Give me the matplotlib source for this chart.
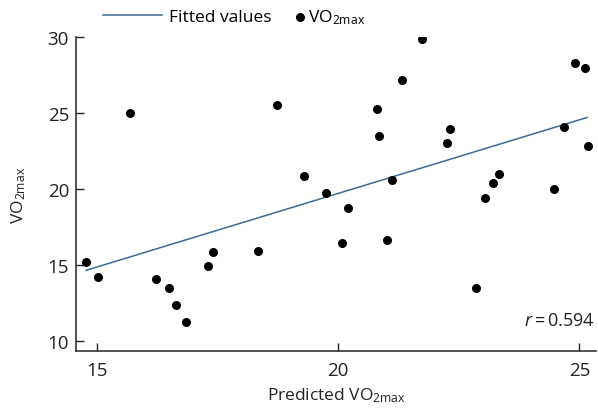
import matplotlib
matplotlib.use("Agg")
import matplotlib.pyplot as plt

plt.rcParams['font.family'] = ['Open Sans', 'DejaVu Sans']
plt.rcParams['mathtext.fontset'] = 'custom'
plt.rcParams['mathtext.rm'] = 'Open Sans'
plt.rcParams['mathtext.it'] = 'Open Sans:italic'

predicted = [14.77, 15.01, 15.68, 16.22, 16.50, 16.63, 16.84, 17.29, 17.41, 18.33,
             18.74, 19.30, 19.74, 20.08, 20.21, 20.80, 20.84, 21.02, 21.11, 21.33,
             21.74, 22.26, 22.32, 22.86, 23.05, 23.20, 23.33, 24.48, 24.69, 24.90,
             25.12, 25.17]
measured = [15.20, 14.19, 24.98, 14.06, 13.49, 12.37, 11.23, 14.95, 15.86, 15.90,
            25.53, 20.84, 19.74, 16.47, 18.78, 25.26, 23.51, 16.64, 20.59, 27.17,
            29.89, 23.03, 23.95, 13.49, 19.43, 20.41, 21.01, 19.98, 24.06, 28.31,
            27.94, 22.85]

# fitted line ends
fit_x = [14.77, 25.16]
fit_y = [14.65, 24.71]

xticks = [15, 20, 25]
yticks = [10, 15, 20, 25, 30]

vo2 = r'VO$_{\mathregular{2max}}$'

fig = plt.figure(figsize=(5.98, 4.10), dpi=100)
ax = fig.add_axes([0.127, 0.1415, 0.870, 0.7655])

line, = ax.plot(fit_x, fit_y, color='#3d6a93', linewidth=1.1, label='Fitted values')
dots = ax.scatter(predicted, measured, s=30, color='black', zorder=3, label=vo2)

ax.set_xlim(14.56, 25.35)
ax.set_ylim(9.34, 30)
ax.set_xticks(xticks)
ax.set_yticks(yticks)
ax.tick_params(direction='in', length=6, width=1, labelsize=13.5, colors='#222222')
ax.tick_params(axis='x', pad=7)
ax.tick_params(axis='y', pad=5)
for s in ['top', 'right']:
    ax.spines[s].set_visible(False)
for s in ['left', 'bottom']:
    ax.spines[s].set_linewidth(1.2)
    ax.spines[s].set_color('#333333')

ax.set_xlabel('Predicted ' + vo2, fontsize=12.5, color='#222222', labelpad=5)
ax.set_ylabel(vo2, fontsize=12.5, color='#222222', labelpad=14)

ax.text(0.998, 0.099, r'$r$' + '\u2009=\u20090.594', transform=ax.transAxes,
        ha='right', va='center', fontsize=13, color='#222222')

leg1 = ax.legend(handles=[line], loc='center left', bbox_to_anchor=(0.052, 1.064),
                 frameon=False, fontsize=12.5, handlelength=3.4, handletextpad=0.4,
                 borderpad=0, borderaxespad=0)
ax.add_artist(leg1)
ax.legend(handles=[dots], loc='center left', bbox_to_anchor=(0.421, 1.064),
          frameon=False, fontsize=12.5, handlelength=0.6, handletextpad=0.15,
          borderpad=0, borderaxespad=0)

fig.savefig('out.png', dpi=100)
